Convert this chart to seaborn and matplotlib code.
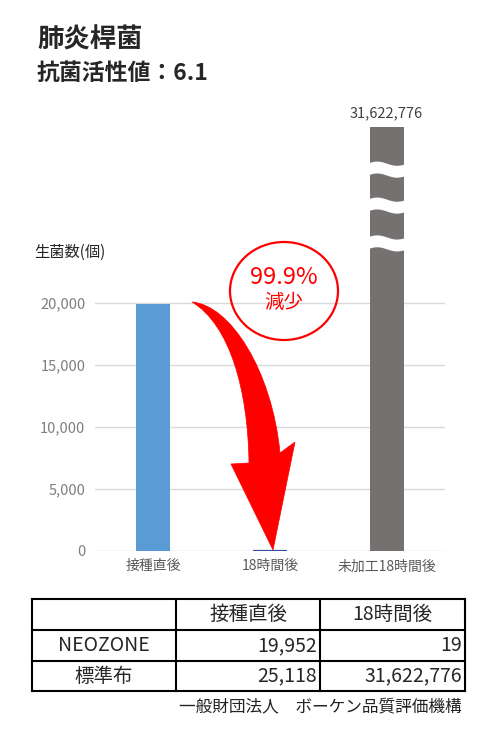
import numpy as np
import pandas as pd
import matplotlib
matplotlib.use("Agg")
import matplotlib.pyplot as plt
import seaborn as sns
from matplotlib.path import Path
from matplotlib.patches import PathPatch, Ellipse

# ---- data ----
categories = ["接種直後", "18時間後", "未加工18時間後"]
table_cols = ["接種直後", "18時間後"]
table_rows = ["NEOZONE", "標準布"]
neozone_counts = [19952, 19]
standard_counts = [25118, 31622776]
bar_values = [neozone_counts[0], neozone_counts[1], standard_counts[1]]
bar_colors = ["#5B9BD5", "#2F5597", "#767171"]
y_ticks = [0, 5000, 10000, 15000, 20000]
y_top = 34200          # axis is cut here, the tall bar is drawn broken
break_centers = [30800, 27900, 24850]

title = "肺炎桿菌"
subtitle = "抗菌活性値：6.1"
y_label = "生菌数(個)"
reduction_pct = "99.9%"
reduction_word = "減少"
source = "一般財団法人　ボーケン品質評価機構"

sns.set_theme(style="white")
plt.rcParams["font.family"] = ["Noto Sans CJK JP", "DejaVu Sans"]

W, H = 500, 741
fig = plt.figure(figsize=(W / 100, H / 100), dpi=100)
fig.patch.set_facecolor("white")

# ---- bar chart ----
ax = fig.add_axes([95 / W, 1 - 551 / H, 350 / W, 424 / H])
df = pd.DataFrame({"category": categories,
                   "shown": np.minimum(bar_values, y_top)})
sns.barplot(data=df, x="category", y="shown", hue="category",
            palette=bar_colors, width=0.29, saturation=1,
            legend=False, ax=ax)
for i, patch in enumerate(ax.patches):
    patch.set_edgecolor(bar_colors[i])
    patch.set_linewidth(1.6 if i == 1 else 0)
    patch.set_zorder(3)

ax.set_ylim(0, y_top)
ax.set_xlim(-0.5, 2.5)
ax.set_yticks(y_ticks)
ax.set_yticklabels([f"{v:,}" for v in y_ticks])
ax.set_xlabel("")
ax.set_ylabel("")
ax.yaxis.grid(True, color="#D9D9D9", linewidth=1)
ax.xaxis.grid(False)
ax.set_axisbelow(True)
for s in ax.spines.values():
    s.set_visible(False)
ax.tick_params(axis="y", length=0, pad=7, labelsize=10.5, labelcolor="#7F7F7F")
ax.tick_params(axis="x", length=0, pad=6, labelsize=10, labelcolor="#595959")

# wavy breaks on the tall bar
xb = np.linspace(2 - 0.17, 2 + 0.17, 80)
wave = 170 * np.sin(2 * np.pi * (xb - xb[0]) / (xb[-1] - xb[0]))
for c in break_centers:
    ax.fill_between(xb, c - 480 + wave, c + 480 + wave,
                    color="white", linewidth=0, zorder=5)

ax.bar_label(ax.containers[2], labels=[f"{bar_values[2]:,}"],
             padding=5, fontsize=10.5, color="#404040")

# ---- overlay in pixel coordinates ----
ov = fig.add_axes([0, 0, 1, 1], zorder=10)
ov.set_xlim(0, W)
ov.set_ylim(H, 0)
ov.axis("off")
ov.patch.set_alpha(0)

ov.text(37, 40, title, fontsize=19, fontweight="bold", va="center", ha="left")
ov.text(37, 73, subtitle, fontsize=16.5, fontweight="bold", va="center", ha="left")
ov.text(34, 252, y_label, fontsize=11, va="center", ha="left", color="#222222")

# curved red arrow
verts = [(192, 302), (230, 305), (272, 370), (280, 453),
         (295, 442), (273, 550), (231, 464), (249, 463),
         (248, 390), (230, 325), (192, 302), (192, 302)]
codes = [Path.MOVETO, Path.CURVE4, Path.CURVE4, Path.CURVE4,
         Path.LINETO, Path.LINETO, Path.LINETO, Path.LINETO,
         Path.CURVE4, Path.CURVE4, Path.CURVE4, Path.CLOSEPOLY]
ov.add_patch(PathPatch(Path(verts, codes), facecolor="#FF0000",
                       edgecolor="#FF0000", linewidth=0.5))

ov.add_patch(Ellipse((284, 291), 108, 98, facecolor="none",
                     edgecolor="#FF0000", linewidth=1.6))
ov.text(284, 277, reduction_pct, fontsize=17, color="#FF0000", ha="center", va="center")
ov.text(284, 302, reduction_word, fontsize=14, color="#FF0000", ha="center", va="center")

# ---- table ----
xs = [32, 176, 320, 465]
ys = [599, 630, 661, 691]
for y in ys:
    ov.plot([xs[0], xs[-1]], [y, y], color="black", linewidth=1.5,
            solid_capstyle="projecting")
for x in xs:
    ov.plot([x, x], [ys[0], ys[-1]], color="black", linewidth=1.5,
            solid_capstyle="projecting")

tfs = 14
for j, col in enumerate(table_cols):
    ov.text((xs[j + 1] + xs[j + 2]) / 2, (ys[0] + ys[1]) / 2, col,
            fontsize=tfs, ha="center", va="center")
for i, (name, vals) in enumerate(zip(table_rows, [neozone_counts, standard_counts])):
    yc = (ys[i + 1] + ys[i + 2]) / 2
    ov.text((xs[0] + xs[1]) / 2, yc, name, fontsize=tfs, ha="center", va="center")
    for j, v in enumerate(vals):
        ov.text(xs[j + 2] - 3, yc, f"{v:,}", fontsize=tfs, ha="right", va="center")

ov.text(462, 708, source, fontsize=12, ha="right", va="center", color="#222222")

fig.savefig("out.png", dpi=100, facecolor="white")
